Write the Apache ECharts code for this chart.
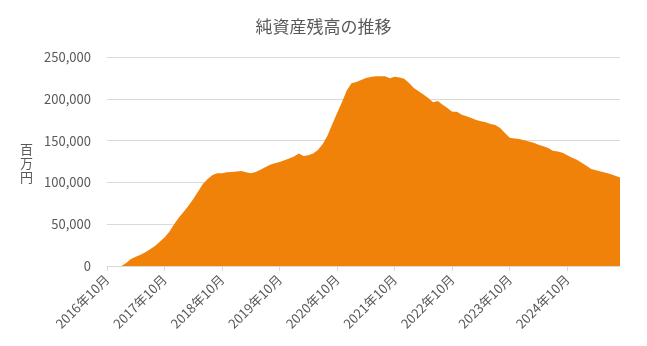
<!DOCTYPE html>
<html><head><meta charset="utf-8">
<script src="https://cdn.jsdelivr.net/npm/echarts@6/dist/echarts.min.js"></script>
<style>html,body{margin:0;padding:0;background:#fff}#c{width:647px;height:346px}</style>
</head><body><div id="c"></div>
<script>
const titleText = '純資産残高の推移';
const yAxisName = '百万円';
const startYear = 2016, startMonth = 10;
// 純資産残高（百万円）, 月次 2016年10月〜
const netAssets = [
  0, 0, 0, 0, 3500, 8500, 11000, 13500, 16500, 20000, 24000, 29000,
  34000, 41000, 50000, 58000, 65000, 72000, 80000, 89000, 98000, 104000, 109000, 111000,
  111000, 112000, 112500, 113000, 113500, 112000, 111000, 112500, 115000, 118000, 121000, 123000,
  124500, 126500, 128500, 131000, 134500, 131500, 132500, 134500, 138700, 146000, 156000, 170000,
  183000, 196000, 210000, 218500, 220000, 222500, 225000, 226000, 227000, 227000, 227000, 224500,
  226400, 225500, 224000, 219000, 213000, 209000, 205000, 201000, 196000, 197500, 193000, 189000,
  184500, 184500, 181000, 179000, 177000, 174500, 173000, 172000, 170000, 168600, 165000, 159000,
  153500, 152500, 151900, 150500, 149000, 147500, 145000, 143200, 141000, 138000, 137000, 135500,
  132500, 129500, 127000, 123500, 120000, 116000, 114500, 113000, 111500, 110000, 108000, 106000
];
const yTicks = [0, 50000, 100000, 150000, 200000, 250000];

const categories = netAssets.map((_, i) => {
  const t = (startMonth - 1) + i;
  return (startYear + Math.floor(t / 12)) + '年' + (t % 12 + 1) + '月';
});

const chart = echarts.init(document.getElementById('c'), null, {renderer: 'canvas'});
const txt = '#595959';
const font = '"Noto Sans CJK JP", "Noto Sans", sans-serif';
chart.setOption({
  animation: false,
  backgroundColor: '#fff',
  textStyle: {fontFamily: font},
  title: {
    text: titleText, left: 'center', top: 13,
    textStyle: {fontSize: 17, fontWeight: 'normal', color: txt, fontFamily: font}
  },
  graphic: [{
    type: 'text', left: 20, top: 142,
    style: {text: yAxisName.split('').join('\n'), fontSize: 13, lineHeight: 14, fill: txt, fontFamily: font}
  }],
  grid: {left: 107, right: 27, top: 57, bottom: 80},
  xAxis: {
    type: 'category', data: categories, boundaryGap: false,
    axisLine: {lineStyle: {color: '#D9D9D9', width: 1}},
    axisTick: {show: true, interval: (i) => i % 12 === 0, length: 5, lineStyle: {color: '#D9D9D9'}},
    axisLabel: {interval: (i) => i % 12 === 0, rotate: 45, color: txt, fontSize: 13, margin: 11, fontFamily: font},
    splitLine: {show: false}
  },
  yAxis: {
    type: 'value', min: yTicks[0], max: yTicks[yTicks.length - 1], interval: 50000,
    axisLine: {show: false}, axisTick: {show: false},
    axisLabel: {color: txt, fontSize: 13, margin: 16, fontFamily: font,
      formatter: (v) => v.toLocaleString('en-US')},
    splitLine: {lineStyle: {color: '#D9D9D9', width: 1}}
  },
  series: [{
    type: 'line', data: netAssets, showSymbol: false, symbol: 'none',
    lineStyle: {width: 0, color: '#F0820A'},
    areaStyle: {color: '#F0820A', opacity: 1},
    itemStyle: {color: '#F0820A'}
  }]
});
</script></body></html>
